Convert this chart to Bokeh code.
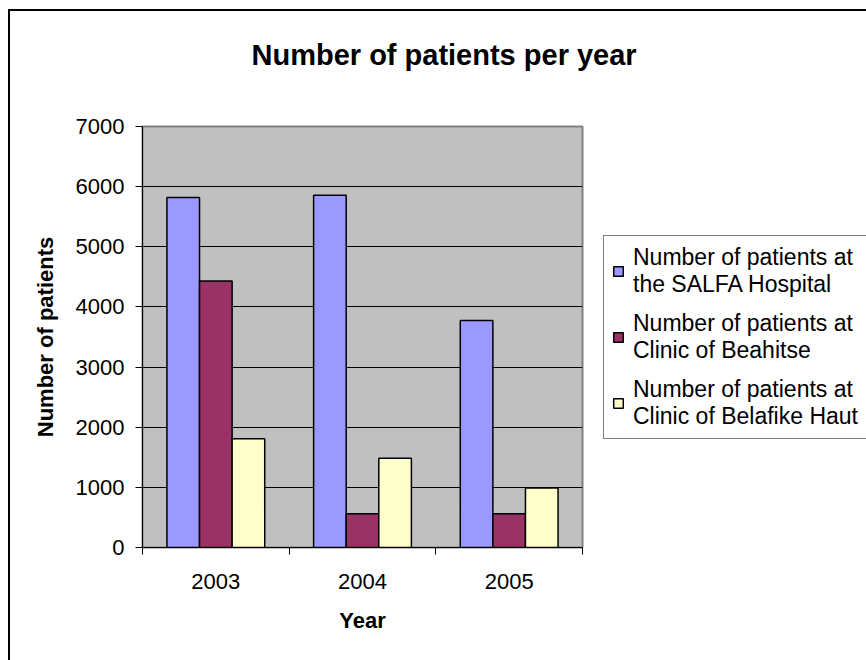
from bokeh.plotting import figure
from bokeh.models import ColumnDataSource, FixedTicker, Legend, LegendItem, Title
from bokeh.embed import file_html
from bokeh.resources import INLINE

# ---- data ----
years = ["2003", "2004", "2005"]
salfa_hospital = [5820, 5855, 3775]
clinic_beahitse = [4430, 560, 560]
clinic_belafike = [1810, 1485, 990]
series_labels = [
    "Number of patients at\nthe SALFA Hospital",
    "Number of patients at\nClinic of Beahitse",
    "Number of patients at\nClinic of Belafike Haut",
]
series_colors = ["#9999FF", "#993366", "#FFFFCC"]
y_ticks = [0, 1000, 2000, 3000, 4000, 5000, 6000, 7000]

FONT = "Liberation Sans"
n = len(years)
bar_w = 1 / 4.5
centers = [i + 0.5 for i in range(n)]

p = figure(
    frame_width=440, frame_height=421,
    x_range=(0, n), y_range=(y_ticks[0], y_ticks[-1]),
    output_backend="svg", toolbar_location=None,
    min_border_left=132, min_border_right=0,
    min_border_top=115, min_border_bottom=113,
    background_fill_color="#C0C0C0", border_fill_color="white",
)
p.styles = {"margin-left": "8px", "margin-top": "9px",
            "border-left": "2px solid black", "border-top": "2px solid black"}

# spacer (closest to frame) then the real title above it
spacer = Title(text=" ", text_font=FONT, text_font_size="20px", standoff=27)
p.add_layout(spacer, "above")
title = Title(text="Number of patients per year", align="left", offset=109,
              text_font=FONT, text_font_size="29px", text_font_style="bold",
              text_color="black", standoff=10)
p.add_layout(title, "above")

all_series = [salfa_hospital, clinic_beahitse, clinic_belafike]
items = []
for k, (vals, col, lab) in enumerate(zip(all_series, series_colors, series_labels)):
    xs = [c + (k - 1) * bar_w for c in centers]
    src = ColumnDataSource(dict(x=xs, top=vals))
    r = p.vbar(x="x", top="top", bottom=0, width=bar_w, source=src,
               fill_color=col, line_color="black", line_width=1.5)
    items.append(LegendItem(label=lab, renderers=[r]))

legend = Legend(items=items, location="left",
                border_line_color="black", border_line_width=1.5,
                background_fill_color="white", background_fill_alpha=1,
                padding=8, spacing=12, margin=21,
                glyph_width=12, glyph_height=12, label_standoff=9,
                label_text_font=FONT, label_text_font_size="23px",
                label_text_line_height=1.3, label_text_color="black")
p.add_layout(legend, "right")

# axes
p.xaxis.ticker = FixedTicker(ticks=centers, minor_ticks=list(range(n + 1)))
p.xaxis.major_label_overrides = {c: y for c, y in zip(centers, years)}
p.xaxis.major_tick_out = 0
p.xaxis.major_tick_in = 0
p.xaxis.minor_tick_out = 7
p.xaxis.minor_tick_in = 0
p.xaxis.minor_tick_line_color = "black"
p.xaxis.major_label_standoff = 19
p.xaxis.axis_label = "Year"
p.xaxis.axis_label_standoff = 16

p.yaxis.ticker = FixedTicker(ticks=y_ticks)
p.yaxis.major_tick_out = 7
p.yaxis.major_tick_in = 0
p.yaxis.minor_tick_line_color = None
p.yaxis.major_label_standoff = 11
p.yaxis.axis_label = "Number of patients"
p.yaxis.axis_label_standoff = 15

for ax in (p.xaxis[0], p.yaxis[0]):
    ax.axis_line_color = "black"
    ax.axis_line_width = 1
    ax.major_tick_line_color = "black"
    ax.major_label_text_font = FONT
    ax.major_label_text_font_size = "22px"
    ax.major_label_text_color = "black"
    ax.axis_label_text_font = FONT
    ax.axis_label_text_font_size = "22px"
    ax.axis_label_text_font_style = "bold"
    ax.axis_label_text_color = "black"

p.xgrid.grid_line_color = None
p.ygrid.grid_line_color = "black"
p.ygrid.grid_line_width = 1
p.outline_line_color = "#808080"
p.outline_line_width = 2

open("out.html", "w").write(file_html(p, INLINE))
